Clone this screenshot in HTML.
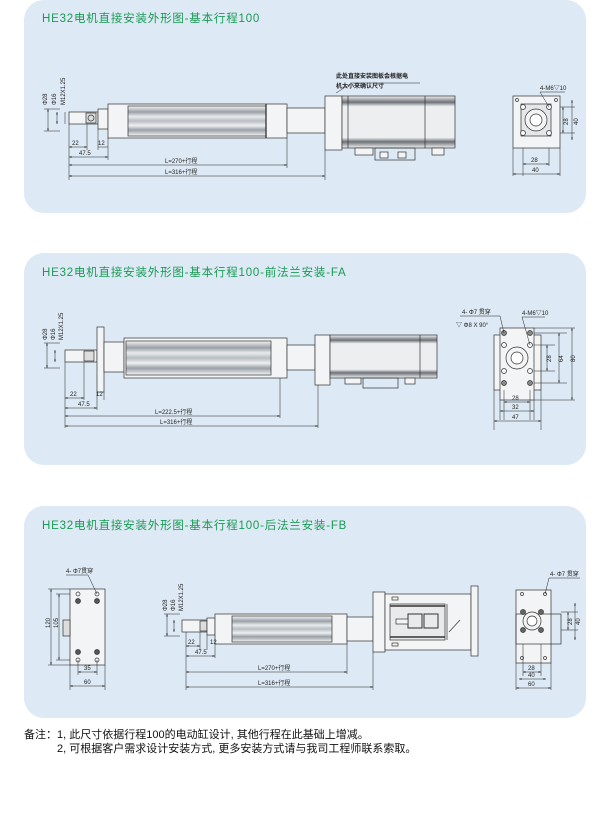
<!DOCTYPE html>
<html><head><meta charset="utf-8"><style>
body{margin:0;background:#fff;width:600px;height:808px;overflow:hidden;font-family:"Liberation Sans","Noto Sans CJK SC",sans-serif}
svg text{font-family:"Liberation Sans","Noto Sans CJK SC",sans-serif}
</style></head><body>
<svg width="600" height="808" viewBox="0 0 600 808" xmlns="http://www.w3.org/2000/svg">
<defs>
<linearGradient id="tube" x1="0" y1="0" x2="0" y2="1">
<stop offset="0" stop-color="#f4f5f6"/><stop offset="0.2" stop-color="#9aa0a6"/><stop offset="0.35" stop-color="#e9ebed"/><stop offset="0.5" stop-color="#b8bdc2"/><stop offset="0.65" stop-color="#eef0f2"/><stop offset="0.8" stop-color="#9aa0a6"/><stop offset="1" stop-color="#f4f5f6"/>
</linearGradient>
<linearGradient id="motor" x1="0" y1="0" x2="0" y2="1">
<stop offset="0" stop-color="#f2f3f4"/><stop offset="0.12" stop-color="#6d7278"/><stop offset="0.2" stop-color="#eceef0"/><stop offset="0.8" stop-color="#eceef0"/><stop offset="0.88" stop-color="#6d7278"/><stop offset="1" stop-color="#f2f3f4"/>
</linearGradient>
<marker id="a" viewBox="0 0 6 6" refX="6" refY="3" markerWidth="5" markerHeight="5" orient="auto-start-reverse"><path d="M0,1 L6,3 L0,5z" fill="#222"/></marker>
</defs>
<g fill="#dde9f4">
<rect x="24" y="0" width="562" height="213" rx="20"/>
<rect x="24" y="253" width="562" height="212" rx="20"/>
<rect x="24" y="506" width="562" height="212" rx="20"/>
</g>
<g fill="#1a9a55" font-size="11.5" letter-spacing="0.8">
<text x="42" y="22">HE32电机直接安装外形图-基本行程100</text>
<text x="42" y="276">HE32电机直接安装外形图-基本行程100-前法兰安装-FA</text>
<text x="42" y="529">HE32电机直接安装外形图-基本行程100-后法兰安装-FB</text>
</g>

<!-- PANEL 1 -->
<g stroke="#333" stroke-width="0.7" fill="#f3f4f5">
<rect x="69" y="112" width="29" height="12"/>
<rect x="86" y="113" width="10" height="10" fill="#ddd"/>
<circle cx="91" cy="118" r="3" fill="none"/>
<rect x="98" y="109" width="10" height="20"/>
<rect x="108" y="104" width="179" height="34"/>
<rect x="128" y="106" width="138" height="30" fill="url(#tube)"/>
<line x1="266" y1="104" x2="266" y2="138" stroke-width="1.3"/>
<rect x="287" y="108" width="38" height="25"/>
<rect x="325" y="96" width="17" height="54"/>
<rect x="342" y="96" width="113" height="52" fill="url(#motor)"/>
<line x1="348" y1="96" x2="348" y2="148"/><line x1="425" y1="96" x2="425" y2="148"/>
<rect x="355" y="148" width="18" height="7"/><rect x="375" y="148" width="40" height="12" fill="none"/>
<rect x="380" y="152" width="8" height="6"/><rect x="398" y="152" width="8" height="6"/>
<rect x="432" y="148" width="12" height="7"/>
</g>
<g stroke="#222" stroke-width="0.5" fill="none">
<path d="M336 93 L352 83 L420 83"/>
<line x1="44" y1="109" x2="60" y2="109"/><line x1="44" y1="131" x2="60" y2="131"/>
<line x1="48" y1="109" x2="48" y2="131" marker-start="url(#a)" marker-end="url(#a)"/>
<line x1="57" y1="112" x2="57" y2="124" marker-start="url(#a)" marker-end="url(#a)"/>
<line x1="65" y1="112" x2="65" y2="124"/>
<line x1="69" y1="124" x2="69" y2="180"/><line x1="87" y1="124" x2="87" y2="150"/>
<line x1="98" y1="129" x2="98" y2="150"/><line x1="108" y1="138" x2="108" y2="160"/>
<line x1="287" y1="138" x2="287" y2="168"/><line x1="325" y1="150" x2="325" y2="180"/>
<line x1="69" y1="147" x2="87" y2="147" marker-start="url(#a)" marker-end="url(#a)"/>
<line x1="98" y1="147" x2="108" y2="147"/>
<line x1="69" y1="157" x2="108" y2="157" marker-start="url(#a)" marker-end="url(#a)"/>
<line x1="69" y1="165" x2="287" y2="165" marker-start="url(#a)" marker-end="url(#a)"/>
<line x1="69" y1="176" x2="325" y2="176" marker-start="url(#a)" marker-end="url(#a)"/>
</g>
<g font-size="6" fill="#222">
<text x="72" y="145">22</text><text x="98" y="145">12</text><text x="79" y="155">47.5</text>
<text x="165" y="163">L=270+行程</text><text x="165" y="174">L=316+行程</text>
<text x="336" y="78" font-weight="bold">此处直接安装图板会根据电</text>
<text x="336" y="88" font-weight="bold">机大小来确认尺寸</text>
<text transform="translate(47,105) rotate(-90)">Φ28</text>
<text transform="translate(56,105) rotate(-90)">Φ16</text>
<text transform="translate(65,105) rotate(-90)">M12X1.25</text>
</g>
<!-- end view 1 -->
<g stroke="#333" stroke-width="0.7" fill="#f3f4f5">
<rect x="513" y="96" width="47" height="52"/>
<rect x="521" y="104" width="30" height="32" fill="#e4e6e8"/>
<circle cx="536" cy="120" r="11"/><circle cx="536" cy="120" r="6" fill="#fff"/>
<circle cx="523" cy="107" r="2.5"/><circle cx="549" cy="107" r="2.5"/><circle cx="523" cy="133" r="2.5"/><circle cx="549" cy="133" r="2.5"/>
<circle cx="517" cy="100" r="1.5"/><circle cx="556" cy="100" r="1.5"/>
</g>
<g stroke="#222" stroke-width="0.5" fill="none">
<path d="M549 107 L540 92 L565 92"/>
<line x1="560" y1="107" x2="575" y2="107"/><line x1="560" y1="133" x2="575" y2="133"/>
<line x1="563" y1="107" x2="563" y2="133" marker-start="url(#a)" marker-end="url(#a)"/>
<line x1="572" y1="100" x2="572" y2="140" marker-start="url(#a)" marker-end="url(#a)"/>
<line x1="523" y1="148" x2="523" y2="176"/><line x1="549" y1="148" x2="549" y2="166"/><line x1="513" y1="148" x2="513" y2="176"/><line x1="560" y1="148" x2="560" y2="176"/>
<line x1="523" y1="164" x2="549" y2="164" marker-start="url(#a)" marker-end="url(#a)"/>
<line x1="513" y1="174" x2="560" y2="174" marker-start="url(#a)" marker-end="url(#a)"/>
</g>
<g font-size="6" fill="#222"><text x="540" y="90">4-M6▽10</text><text x="531" y="162">28</text><text x="532" y="172">40</text>
<text transform="translate(568,125) rotate(-90)">28</text><text transform="translate(578,125) rotate(-90)">40</text></g>

<!-- PANEL 2 -->
<g stroke="#333" stroke-width="0.7" fill="#f3f4f5">
<rect x="65" y="350" width="32" height="12"/>
<rect x="84" y="351" width="10" height="10" fill="#ddd"/>
<rect x="97" y="327" width="7" height="65"/>
<rect x="104" y="342" width="20" height="30"/>
<rect x="124" y="338" width="163" height="40"/>
<rect x="126" y="341" width="145" height="34" fill="url(#tube)"/>
<rect x="287" y="345" width="28" height="25"/>
<rect x="315" y="335" width="15" height="50"/>
<rect x="330" y="335" width="107" height="43" fill="url(#motor)"/>
<line x1="420" y1="335" x2="420" y2="378"/>
<rect x="345" y="378" width="16" height="6"/><rect x="363" y="378" width="35" height="10" fill="none"/><rect x="405" y="378" width="10" height="6"/>
</g>
<g stroke="#222" stroke-width="0.5" fill="none">
<line x1="44" y1="343" x2="60" y2="343"/><line x1="44" y1="368" x2="60" y2="368"/>
<line x1="47" y1="343" x2="47" y2="368" marker-start="url(#a)" marker-end="url(#a)"/>
<line x1="55" y1="350" x2="55" y2="362" marker-start="url(#a)" marker-end="url(#a)"/>
<line x1="65" y1="362" x2="65" y2="428"/><line x1="84" y1="362" x2="84" y2="400"/>
<line x1="97" y1="392" x2="97" y2="410"/><line x1="104" y1="392" x2="104" y2="400"/>
<line x1="280" y1="378" x2="280" y2="418"/><line x1="318" y1="385" x2="318" y2="428"/>
<line x1="65" y1="398" x2="84" y2="398" marker-start="url(#a)" marker-end="url(#a)"/>
<line x1="65" y1="408" x2="97" y2="408" marker-start="url(#a)" marker-end="url(#a)"/>
<line x1="65" y1="416" x2="280" y2="416" marker-start="url(#a)" marker-end="url(#a)"/>
<line x1="65" y1="426" x2="318" y2="426" marker-start="url(#a)" marker-end="url(#a)"/>
</g>
<g font-size="6" fill="#222">
<text x="70" y="396">22</text><text x="96" y="396">12</text><text x="78" y="406">47.5</text>
<text x="155" y="414">L=222.5+行程</text><text x="160" y="424">L=316+行程</text>
<text transform="translate(47,340) rotate(-90)">Φ28</text>
<text transform="translate(55,340) rotate(-90)">Φ16</text>
<text transform="translate(63,340) rotate(-90)">M12X1.25</text>
</g>
<g stroke="#333" stroke-width="0.7" fill="#f3f4f5">
<rect x="494" y="335" width="47" height="55"/>
<rect x="500" y="328" width="34" height="72"/>
<circle cx="517" cy="358" r="11"/><circle cx="517" cy="358" r="6" fill="#fff"/>
<circle cx="504" cy="345" r="2.5"/><circle cx="530" cy="345" r="2.5"/><circle cx="504" cy="371" r="2.5"/><circle cx="530" cy="371" r="2.5"/>
<circle cx="504" cy="333" r="2.5" fill="#888"/><circle cx="530" cy="333" r="2.5" fill="#888"/><circle cx="504" cy="383" r="2.5" fill="#888"/><circle cx="530" cy="383" r="2.5" fill="#888"/>
</g>
<g stroke="#222" stroke-width="0.5" fill="none">
<path d="M504 333 L500 316 L460 316"/><path d="M530 345 L522 317 L545 317"/>
<line x1="534" y1="345" x2="555" y2="345"/><line x1="534" y1="371" x2="555" y2="371"/>
<line x1="547" y1="345" x2="547" y2="371" marker-start="url(#a)" marker-end="url(#a)"/>
<line x1="534" y1="333" x2="567" y2="333"/><line x1="534" y1="383" x2="567" y2="383"/>
<line x1="559" y1="333" x2="559" y2="383" marker-start="url(#a)" marker-end="url(#a)"/>
<line x1="534" y1="328" x2="575" y2="328"/><line x1="534" y1="400" x2="575" y2="400"/>
<line x1="572" y1="328" x2="572" y2="400" marker-start="url(#a)" marker-end="url(#a)"/>
<line x1="504" y1="390" x2="504" y2="420"/><line x1="530" y1="390" x2="530" y2="420"/><line x1="494" y1="390" x2="494" y2="430"/><line x1="541" y1="390" x2="541" y2="430"/><line x1="500" y1="400" x2="500" y2="420"/><line x1="534" y1="400" x2="534" y2="420"/>
<line x1="504" y1="402" x2="530" y2="402" marker-start="url(#a)" marker-end="url(#a)"/>
<line x1="500" y1="411" x2="534" y2="411" marker-start="url(#a)" marker-end="url(#a)"/>
<line x1="494" y1="421" x2="541" y2="421" marker-start="url(#a)" marker-end="url(#a)"/>
</g>
<g font-size="6" fill="#222"><text x="462" y="314">4- Φ7 贯穿</text><text x="456" y="327">▽ Φ8 X 90°</text><text x="522" y="315">4-M6▽10</text>
<text x="512" y="400">28</text><text x="512" y="409">32</text><text x="512" y="419">47</text>
<text transform="translate(551,362) rotate(-90)">28</text><text transform="translate(563,362) rotate(-90)">64</text><text transform="translate(575,362) rotate(-90)">80</text></g>

<!-- PANEL 3 -->
<g stroke="#333" stroke-width="0.7" fill="#f3f4f5">
<rect x="70" y="589" width="35" height="76"/>
<rect x="63" y="620" width="7" height="16" fill="#ddd"/>
<circle cx="78" cy="594" r="2" fill="none"/><circle cx="97" cy="594" r="2" fill="none"/>
<circle cx="78" cy="601" r="2.5" fill="#555"/><circle cx="97" cy="601" r="2.5" fill="#555"/>
<circle cx="78" cy="652" r="2.5" fill="#555"/><circle cx="97" cy="652" r="2.5" fill="#555"/>
<circle cx="78" cy="660" r="2" fill="none"/><circle cx="97" cy="660" r="2" fill="none"/>
</g>
<g stroke="#222" stroke-width="0.5" fill="none">
<path d="M97 594 L88 575 L66 575"/>
<line x1="48" y1="589" x2="70" y2="589"/><line x1="48" y1="665" x2="70" y2="665"/>
<line x1="51" y1="589" x2="51" y2="665" marker-start="url(#a)" marker-end="url(#a)"/>
<line x1="56" y1="594" x2="70" y2="594"/><line x1="56" y1="660" x2="70" y2="660"/>
<line x1="59" y1="594" x2="59" y2="660" marker-start="url(#a)" marker-end="url(#a)"/>
<line x1="78" y1="660" x2="78" y2="675"/><line x1="97" y1="660" x2="97" y2="675"/>
<line x1="70" y1="665" x2="70" y2="690"/><line x1="105" y1="665" x2="105" y2="690"/>
<line x1="78" y1="672" x2="97" y2="672" marker-start="url(#a)" marker-end="url(#a)"/>
<line x1="70" y1="686" x2="105" y2="686" marker-start="url(#a)" marker-end="url(#a)"/>
</g>
<g font-size="6" fill="#222"><text x="66" y="573">4- Φ7贯穿</text><text x="84" y="670">35</text><text x="84" y="684">60</text>
<text transform="translate(50,628) rotate(-90)">120</text><text transform="translate(58,628) rotate(-90)">105</text></g>

<g stroke="#333" stroke-width="0.7" fill="#f3f4f5">
<rect x="182" y="620" width="25" height="12"/>
<rect x="200" y="621" width="7" height="10" fill="#ddd"/>
<rect x="207" y="618" width="8" height="17"/>
<rect x="215" y="614" width="132" height="30"/>
<rect x="232" y="616" width="100" height="26" fill="url(#tube)"/>
<rect x="347" y="617" width="26" height="24"/>
<rect x="373" y="592" width="12" height="60"/>
<rect x="385" y="594" width="86" height="56"/>
<rect x="390" y="604" width="55" height="36" fill="#e8eaec"/>
<line x1="390" y1="606" x2="445" y2="606" stroke-width="1.5"/><line x1="390" y1="637" x2="445" y2="637" stroke-width="1.5"/>
<line x1="447" y1="604" x2="447" y2="640"/>
<rect x="408" y="614" width="14" height="14" fill="none" stroke-width="1"/><rect x="424" y="614" width="14" height="14" fill="none" stroke-width="1"/>
<rect x="396" y="619" width="12" height="5"/>
<path d="M449 632 L460 620" fill="none"/>
<rect x="471" y="586" width="7" height="70"/>
<rect x="392" y="597" width="6" height="3"/><rect x="392" y="643" width="6" height="3"/>
</g>
<g stroke="#222" stroke-width="0.5" fill="none">
<line x1="164" y1="614" x2="180" y2="614"/><line x1="164" y1="636" x2="180" y2="636"/>
<line x1="167" y1="614" x2="167" y2="636" marker-start="url(#a)" marker-end="url(#a)"/>
<line x1="174" y1="620" x2="174" y2="632" marker-start="url(#a)" marker-end="url(#a)"/>
<line x1="186" y1="632" x2="186" y2="690"/><line x1="200" y1="632" x2="200" y2="650"/>
<line x1="207" y1="635" x2="207" y2="650"/><line x1="215" y1="644" x2="215" y2="658"/>
<line x1="347" y1="644" x2="347" y2="674"/><line x1="373" y1="652" x2="373" y2="690"/>
<line x1="186" y1="646" x2="200" y2="646" marker-start="url(#a)" marker-end="url(#a)"/>
<line x1="186" y1="656" x2="215" y2="656" marker-start="url(#a)" marker-end="url(#a)"/>
<line x1="186" y1="672" x2="347" y2="672" marker-start="url(#a)" marker-end="url(#a)"/>
<line x1="186" y1="687" x2="373" y2="687" marker-start="url(#a)" marker-end="url(#a)"/>
</g>
<g font-size="6" fill="#222">
<text x="188" y="644">22</text><text x="210" y="644">12</text><text x="195" y="654">47.5</text>
<text x="258" y="670">L=270+行程</text><text x="258" y="685">L=316+行程</text>
<text transform="translate(167,611) rotate(-90)">Φ28</text>
<text transform="translate(175,611) rotate(-90)">Φ16</text>
<text transform="translate(183,611) rotate(-90)">M12X1.25</text>
</g>

<g stroke="#333" stroke-width="0.7" fill="#f3f4f5">
<rect x="516" y="590" width="35" height="73"/>
<rect x="516" y="614" width="45" height="30" fill="none"/>
<circle cx="532" cy="621" r="9"/><circle cx="532" cy="621" r="5" fill="#fff"/>
<circle cx="523" cy="612" r="2.5" fill="#666"/><circle cx="541" cy="612" r="2.5" fill="#666"/><circle cx="523" cy="630" r="2.5" fill="#666"/><circle cx="541" cy="630" r="2.5" fill="#666"/>
<circle cx="522" cy="594" r="1.5" fill="none"/><circle cx="545" cy="594" r="1.5" fill="none"/>
<circle cx="522" cy="658" r="1.5" fill="none"/><circle cx="545" cy="658" r="1.5" fill="none"/>
</g>
<g stroke="#222" stroke-width="0.5" fill="none">
<path d="M545 594 L549 578 L580 578"/>
<line x1="561" y1="612" x2="578" y2="612"/><line x1="561" y1="630" x2="578" y2="630"/>
<line x1="568" y1="612" x2="568" y2="630" marker-start="url(#a)" marker-end="url(#a)"/>
<line x1="575" y1="603" x2="575" y2="640" marker-start="url(#a)" marker-end="url(#a)"/>
<line x1="523" y1="644" x2="523" y2="676"/><line x1="541" y1="644" x2="541" y2="676"/><line x1="516" y1="663" x2="516" y2="690"/><line x1="551" y1="663" x2="551" y2="690"/>
<line x1="523" y1="672" x2="541" y2="672" marker-start="url(#a)" marker-end="url(#a)"/>
<line x1="519" y1="679" x2="546" y2="679" marker-start="url(#a)" marker-end="url(#a)"/>
<line x1="516" y1="688" x2="551" y2="688" marker-start="url(#a)" marker-end="url(#a)"/>
</g>
<g font-size="6" fill="#222"><text x="550" y="576">4- Φ7 贯穿</text><text x="528" y="670">28</text><text x="528" y="677">40</text><text x="528" y="686">60</text>
<text transform="translate(572,625) rotate(-90)">28</text><text transform="translate(580,625) rotate(-90)">40</text></g>

<g font-size="11" fill="#111">
<text x="24" y="738">备注：1, 此尺寸依据行程100的电动缸设计, 其他行程在此基础上增减。</text>
<text x="57" y="752">2, 可根据客户需求设计安装方式, 更多安装方式请与我司工程师联系索取。</text>
</g>
</svg>
</body></html>
